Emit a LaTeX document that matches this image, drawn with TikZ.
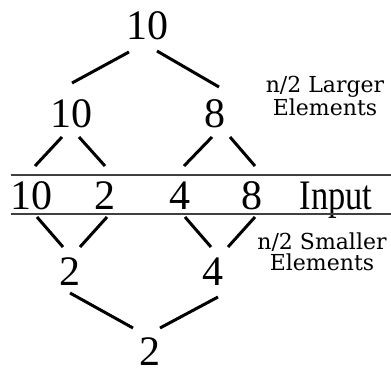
\documentclass[tikz,border=0pt]{standalone}
\usepackage{fontspec}
\setmainfont{Liberation Serif}
\newfontfamily\labfont{DejaVu Serif}
\newfontfamily\narrowfont[FakeStretch=0.82]{Liberation Serif}
\begin{document}
\begin{tikzpicture}[x=1pt,y=-1pt,
  num/.style={anchor=base,inner sep=0pt,font=\fontsize{42}{42}\selectfont},
  lab/.style={anchor=base,inner sep=0pt,align=center,font=\labfont\fontsize{22}{21}\selectfont},
  edge/.style={line width=3pt,black},
  rule/.style={line width=1.3pt,black!75}]
\useasboundingbox (0,0) rectangle (391,370);
\fill[white] (0,0) rectangle (391,370);
% nodes
\node[num] (t) at (147,39) {10};
\node[num] (a) at (71,127) {10};
\node[num] (b) at (215,127) {8};
\node[num] (i1) at (31,209) {10};
\node[num] (i2) at (105,209) {2};
\node[num] (i3) at (180,209) {4};
\node[num] (i4) at (252,209) {8};
\node[num,font=\narrowfont\fontsize{42}{42}\selectfont] (inp) at (336,209) {Input};
\node[num] (c) at (70,285) {2};
\node[num] (d) at (213,285) {4};
\node[num] (e) at (150,365) {2};
\node[lab] (ll) at (325,115) {n/2 Larger\\Elements};
\node[lab] (sl) at (322,270) {n/2 Smaller\\Elements};
% rules
\coordinate (r1l) at (11,175);
\coordinate (r1r) at (391,175);
\coordinate (r2l) at (11,214);
\coordinate (r2r) at (391,214);
\draw[rule] (r1l) -- (r1r);
\draw[rule] (r2l) -- (r2r);
% edges
\draw[edge] ([shift={(-18,13)}]t.base) -- ([shift={(1,-44)}]a.base);
\draw[edge] ([shift={(10,12)}]t.base) -- ([shift={(4,-40)}]b.base);
\draw[edge] ([shift={(-9,10)}]a.base) -- ([shift={(4,-43)}]i1.base);
\draw[edge] ([shift={(8,10)}]a.base) -- ([shift={(0,-43)}]i2.base);
\draw[edge] ([shift={(-3,10)}]b.base) -- ([shift={(4,-43)}]i3.base);
\draw[edge] ([shift={(15,10)}]b.base) -- ([shift={(3,-43)}]i4.base);
\draw[edge] ([shift={(6,8)}]i1.base) -- ([shift={(-7,-38)}]c.base);
\draw[edge] ([shift={(2,8)}]i2.base) -- ([shift={(10,-38)}]c.base);
\draw[edge] ([shift={(5,8)}]i3.base) -- ([shift={(-2,-38)}]d.base);
\draw[edge] ([shift={(3,8)}]i4.base) -- ([shift={(15,-38)}]d.base);
\draw[edge] ([shift={(0,8)}]c.base) -- ([shift={(-17,-37)}]e.base);
\draw[edge] ([shift={(5,12)}]d.base) -- ([shift={(10,-37)}]e.base);
\end{tikzpicture}
\end{document}
